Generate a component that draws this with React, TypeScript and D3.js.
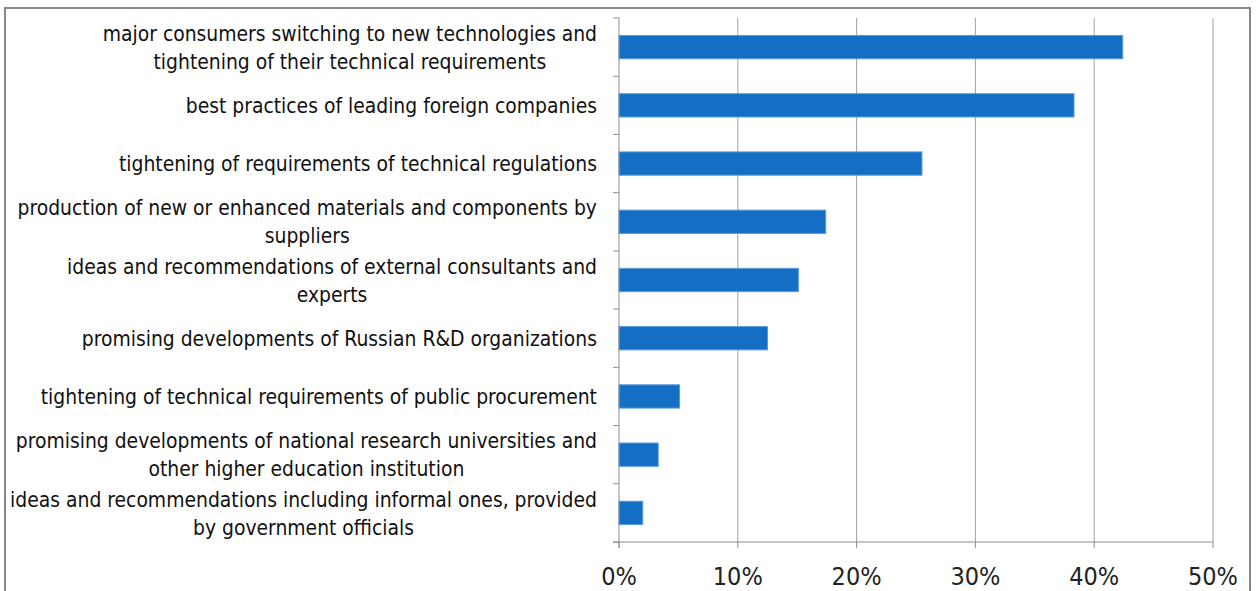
import React, {useEffect, useRef} from "react"
import * as d3 from "d3"

const categories: string[][] = [
    ["major consumers switching to new technologies and", "tightening of their technical requirements"],
    ["best practices of leading foreign companies"],
    ["tightening of requirements of technical regulations"],
    ["production of new or enhanced materials and components by", "suppliers"],
    ["ideas and recommendations of external consultants and", "experts"],
    ["promising developments of Russian R&D organizations"],
    ["tightening of technical requirements of public procurement"],
    ["promising developments of national research universities and", "other higher education institution"],
    ["ideas and recommendations including informal ones, provided", "by government officials"],
]
const values = [42.4, 38.3, 25.5, 17.4, 15.1, 12.5, 5.1, 3.3, 2.0]
const xTicks = [0, 10, 20, 30, 40, 50]

const W = 1257
const H = 591
const margin = {top: 18, right: 44, bottom: 49, left: 619}
const labelFont = "'Liberation Sans Narrow', 'DejaVu Sans Condensed', sans-serif"

const App = () => {
    const ref = useRef<SVGSVGElement>(null)

    useEffect(() => {
        const svg = d3.select(ref.current)
        svg.selectAll("*").remove()

        const x = d3.scaleLinear().domain([0, 50]).range([margin.left, W - margin.right])
        const y = d3.scaleBand<number>()
            .domain(d3.range(categories.length))
            .range([margin.top, H - margin.bottom])
            .paddingInner(0.6).paddingOuter(0.3)
        const band = d3.scaleBand<number>()
            .domain(d3.range(categories.length))
            .range([margin.top, H - margin.bottom])

        // outer chart border
        svg.append("rect")
            .attr("x", 5).attr("y", 8)
            .attr("width", 1245).attr("height", 600)
            .attr("fill", "white").attr("stroke", "#878787").attr("stroke-width", 2)

        // gridlines
        svg.append("g").selectAll("line")
            .data(xTicks.slice(1))
            .join("line")
            .attr("x1", d => x(d)).attr("x2", d => x(d))
            .attr("y1", margin.top).attr("y2", H - margin.bottom)
            .attr("stroke", "#a0a0a0").attr("stroke-width", 1)

        // bars
        svg.append("g").selectAll("rect")
            .data(values)
            .join("rect")
            .attr("x", x(0))
            .attr("y", (_, i) => y(i)!)
            .attr("width", d => x(d) - x(0))
            .attr("height", y.bandwidth())
            .attr("fill", "#136ec4")
            .attr("stroke", "#5b9ad8").attr("stroke-width", 1)

        // y axis
        const yb = H - margin.bottom
        svg.append("line")
            .attr("x1", x(0)).attr("x2", x(0))
            .attr("y1", margin.top).attr("y2", yb + 6)
            .attr("stroke", "#8c8c8c")
        svg.append("g").selectAll("line")
            .data(d3.range(categories.length + 1))
            .join("line")
            .attr("x1", x(0) - 6).attr("x2", x(0))
            .attr("y1", i => i < categories.length ? band(i)! : yb)
            .attr("y2", i => i < categories.length ? band(i)! : yb)
            .attr("stroke", "#8c8c8c")

        // x axis
        svg.append("line")
            .attr("x1", x(0) - 6).attr("x2", x(50))
            .attr("y1", yb).attr("y2", yb)
            .attr("stroke", "#8c8c8c")
        svg.append("g").selectAll("line")
            .data(xTicks)
            .join("line")
            .attr("x1", d => x(d)).attr("x2", d => x(d))
            .attr("y1", yb).attr("y2", yb + 6)
            .attr("stroke", "#8c8c8c")
        svg.append("g").selectAll("text")
            .data(xTicks)
            .join("text")
            .attr("x", d => x(d))
            .attr("y", yb + 43)
            .attr("text-anchor", "middle")
            .attr("font-family", labelFont)
            .attr("font-size", 25)
            .attr("fill", "#222")
            .text(d => `${d}%`)

        // category labels: lines centred together, block right-aligned,
        // squeezed horizontally so the longest line fits the left margin
        const lineH = 28
        const right = x(0) - 22
        const labels = svg.append("g")
        const blocks = categories.map((lines, i) => {
            const cy = band(i)! + band.bandwidth() / 2
            const texts = lines.map((ln, j) => labels.append("text")
                .attr("y", cy + (j - (lines.length - 1) / 2) * lineH)
                .attr("dy", "0.35em")
                .attr("text-anchor", "middle")
                .attr("font-family", labelFont)
                .attr("font-size", 22)
                .attr("fill", "#111")
                .text(ln))
            const widths = texts.map(t => (t.node() as SVGTextElement).getComputedTextLength())
            return {texts, maxW: d3.max(widths) || 0}
        })
        const widest = d3.max(blocks, b => b.maxW) || 1
        const sx = Math.min(1, (right - 10) / widest)
        labels.attr("transform", `translate(${right},0) scale(${sx},1)`)
        blocks.forEach(b => b.texts.forEach(t => t.attr("x", -b.maxW / 2)))
    }, [])

    return (
        <svg ref={ref} width={W} height={H}
             style={{position: "absolute", left: 0, top: 0, background: "white"}}/>
    )
}

export default App
